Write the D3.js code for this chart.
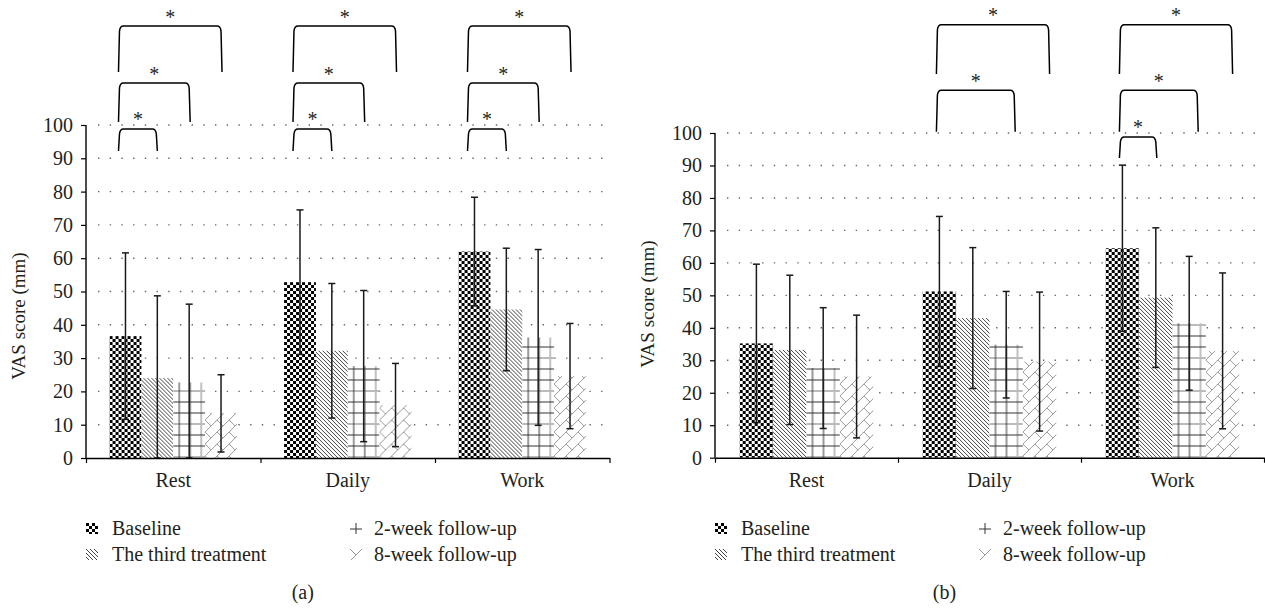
<!DOCTYPE html>
<html>
<head>
<meta charset="utf-8">
<script src="https://cdn.jsdelivr.net/npm/d3@7"></script>
<style>
  body { margin: 0; background: #fff; }
  svg { display: block; }
  text { font-family: 'Liberation Serif', 'Times New Roman', serif; fill: #231f20; }
</style>
</head>
<body>
<svg id="chart" width="1265" height="608"></svg>
<script>
//data
const categories = ['Rest', 'Daily', 'Work'];
const series = ['Baseline', 'The third treatment', '2-week follow-up', '8-week follow-up'];
const yTicks = d3.range(0, 101, 10);

//panel (a): mean VAS per category (rows) and series (columns), and SD
const meansA = [[36.6, 24.0, 22.7, 13.4], [52.8, 32.2, 27.6, 15.9], [62.0, 44.6, 36.2, 24.6]];
const sdA = [[25.0, 24.7, 23.5, 11.6], [21.7, 20.2, 22.7, 12.5], [16.3, 18.4, 26.4, 15.8]];
//panel (b)
const meansB = [[35.2, 33.2, 27.6, 25.0], [51.2, 43.0, 34.8, 29.6], [64.5, 49.3, 41.4, 32.9]];
const sdB = [[24.4, 23.0, 18.6, 18.9], [23.1, 21.7, 16.4, 21.4], [25.6, 21.5, 20.6, 24.0]];

//significance brackets: [category, from series, to series, level]
const sigA = [[0, 0, 1, 1], [0, 0, 2, 2], [0, 0, 3, 3], [1, 0, 1, 1], [1, 0, 2, 2], [1, 0, 3, 3],
              [2, 0, 1, 1], [2, 0, 2, 2], [2, 0, 3, 3]];
const sigB = [[1, 0, 2, 2], [1, 0, 3, 3], [2, 0, 1, 1], [2, 0, 2, 2], [2, 0, 3, 3]];
const sigLabel = '*';
const captions = ['(a)', '(b)'];

//layout; bracket levels are in value units: [top, leg bottom]
const panels = [
  { x0: 86, x1: 609.5, y0: 458, y100: 125, gridEnd: 606, titleY: 316,
    means: meansA, sd: sdA, sig: sigA, bl: -7, br: [0, 0, 1, 1],
    levels: { 1: [98.8, 92.2], 2: [112.6, 100.9], 3: [129.7, 115.9] } },
  { x0: 715, x1: 1264, y0: 457.7, y100: 133, gridEnd: 1262, titleY: 304,
    means: meansB, sd: sdB, sig: sigB, bl: -3, br: [0, 1, 9, 10],
    levels: { 1: [98.8, 92.3], 2: [113.2, 100.4], 3: [133.3, 118.2] } }
];
const fs = 20;

const svg = d3.select('#chart');
const defs = svg.append('defs');

//fill patterns, one per series
function pattern(id, w, h) {
  const p = defs.append('pattern').attr('id', id)
    .attr('patternUnits', 'userSpaceOnUse').attr('width', w).attr('height', h);
  p.append('rect').attr('width', w).attr('height', h).attr('fill', '#fff');
  return p;
}
const checker = pattern('pat0', 6, 6);
checker.append('rect').attr('width', 3).attr('height', 3).attr('fill', '#000');
checker.append('rect').attr('x', 3).attr('y', 3).attr('width', 3).attr('height', 3).attr('fill', '#000');

const hatch = pattern('pat1', 4, 4);
hatch.append('path').attr('d', 'M-1,-1 L5,5 M3,-1 L5,1 M-1,3 L1,5')
  .attr('stroke', '#111').attr('stroke-width', 0.8);

const grid = pattern('pat2', 33, 33);
grid.append('path').attr('d', 'M28,0 V33 M0,28 H33')
  .attr('stroke', '#bbb').attr('stroke-width', 1.8);
grid.append('path').attr('d', 'M6,0 V33 M17,0 V33 M0,6 H33 M0,17 H33')
  .attr('stroke', '#333').attr('stroke-width', 1);

const brick = pattern('pat3', 12, 12);
brick.append('path').attr('d', 'M-1,13 L13,-1 M0,0 L6,6')
  .attr('stroke', '#999').attr('stroke-width', 1);

function bracketPath(xa, xb, yt, yb) {
  return `M${xa},${yb} L${xa + 1},${yt + 5} Q${xa + 1.5},${yt} ${xa + 5},${yt}` +
         ` L${xb - 5},${yt} Q${xb - 1.5},${yt} ${xb - 1},${yt + 5} L${xb},${yb}`;
}

panels.forEach(function (P, pi) {
  const g = svg.append('g');

  const x = d3.scaleBand().domain(categories).range([P.x0, P.x1])
    .paddingInner(0.27).paddingOuter(0.135);
  const xs = d3.scaleBand().domain(series).range([0, x.bandwidth()]);
  const y = d3.scaleLinear().domain([0, 100]).range([P.y0, P.y100]);

  //dotted gridlines
  g.append('g').selectAll('line').data(yTicks.slice(1)).enter().append('line')
    .attr('x1', P.x0 + 12).attr('x2', P.gridEnd)
    .attr('y1', d => y(d)).attr('y2', d => y(d))
    .attr('stroke', '#666').attr('stroke-width', 1.4)
    .attr('stroke-dasharray', '1.4 10.3');

  //bars
  const rows = [];
  categories.forEach(function (c, ci) {
    series.forEach(function (s, si) {
      rows.push({ c: c, s: s, si: si, m: P.means[ci][si], sd: P.sd[ci][si] });
    });
  });
  const bar = g.append('g').selectAll('g').data(rows).enter().append('g')
    .attr('transform', d => `translate(${x(d.c) + xs(d.s)},0)`);
  bar.append('rect')
    .attr('x', 0).attr('width', xs.bandwidth())
    .attr('y', d => y(d.m)).attr('height', d => y(0) - y(d.m))
    .attr('fill', d => `url(#pat${d.si})`);

  //error bars
  const cap = 3.5;
  const eb = g.append('g').attr('stroke', '#1a1a1a').attr('stroke-width', 1.5)
    .selectAll('g').data(rows).enter().append('g')
    .attr('transform', d => `translate(${x(d.c) + xs(d.s) + xs.bandwidth() / 2},0)`);
  eb.append('line').attr('y1', d => y(d.m + d.sd)).attr('y2', d => y(Math.max(0, d.m - d.sd)));
  eb.append('line').attr('x1', -cap).attr('x2', cap)
    .attr('y1', d => y(d.m + d.sd)).attr('y2', d => y(d.m + d.sd));
  eb.append('line').attr('x1', -cap).attr('x2', cap)
    .attr('y1', d => y(Math.max(0, d.m - d.sd))).attr('y2', d => y(Math.max(0, d.m - d.sd)));

  //y axis
  const yAxis = g.append('g').attr('transform', `translate(${P.x0},0)`)
    .call(d3.axisLeft(y).tickValues(yTicks).tickSize(5).tickPadding(8));
  yAxis.select('.domain').attr('d', `M0,${y(0)}V${y(100)}`).attr('stroke', '#000').attr('stroke-width', 1.4);
  yAxis.selectAll('.tick line').attr('stroke', '#000').attr('stroke-width', 1.2);
  yAxis.selectAll('.tick text').attr('font-size', fs)
    .attr('font-family', "'Liberation Serif', serif").attr('fill', '#231f20');

  //x axis: ticks on the category boundaries
  const xb = d3.scaleLinear().domain([0, categories.length]).range([P.x0, P.x1]);
  const xAxis = g.append('g').attr('transform', `translate(0,${y(0)})`)
    .call(d3.axisBottom(xb).ticks(categories.length).tickSize(5).tickSizeOuter(0).tickFormat(''));
  xAxis.select('.domain').attr('stroke', '#000').attr('stroke-width', 1.4);
  xAxis.selectAll('.tick line').attr('stroke', '#000').attr('stroke-width', 1.2);

  g.append('g').selectAll('text').data(categories).enter().append('text')
    .attr('x', d => x(d) + x.bandwidth() / 2).attr('y', y(0) + 29)
    .attr('text-anchor', 'middle').attr('font-size', fs).text(d => d);

  g.append('text')
    .attr('transform', `translate(${P.x0 - 61},${P.titleY}) rotate(-90)`)
    .attr('text-anchor', 'middle').attr('font-size', 19).text('VAS score (mm)');

  //significance brackets
  const sg = g.append('g').selectAll('g').data(P.sig).enter().append('g');
  const cx = (ci, si) => x(categories[ci]) + xs(series[si]) + xs.bandwidth() / 2;
  sg.append('path')
    .attr('d', d => bracketPath(cx(d[0], d[1]) + P.bl, cx(d[0], d[2]) + P.br[d[3]],
                                y(P.levels[d[3]][0]), y(P.levels[d[3]][1])))
    .attr('fill', 'none').attr('stroke', '#000').attr('stroke-width', 1.5);
  sg.append('text')
    .attr('x', d => (cx(d[0], d[1]) + P.bl + cx(d[0], d[2]) + P.br[d[3]]) / 2)
    .attr('y', d => y(P.levels[d[3]][0]) - 2.5)
    .attr('text-anchor', 'middle').attr('font-size', fs).text(sigLabel);

  //legend
  const lg = g.append('g').selectAll('g').data(series).enter().append('g')
    .attr('transform', (d, i) => `translate(${P.x0 + (i >= 2 ? 262 : 0)},${i % 2 ? 561 : 535})`);
  lg.append('g').attr('transform', d => `translate(${series.indexOf(d) >= 2 ? 2 : 0},-12)`)
    .append('rect').attr('width', 12).attr('height', 11)
    .attr('fill', d => `url(#pat${series.indexOf(d)})`);
  lg.append('text').attr('x', 26).attr('y', 0).attr('font-size', fs).text(d => d);

  g.append('text')
    .attr('x', (P.x0 + P.x1) / 2 - 45).attr('y', 599)
    .attr('text-anchor', 'middle').attr('font-size', fs).text(captions[pi]);
});
</script>
</body>
</html>
